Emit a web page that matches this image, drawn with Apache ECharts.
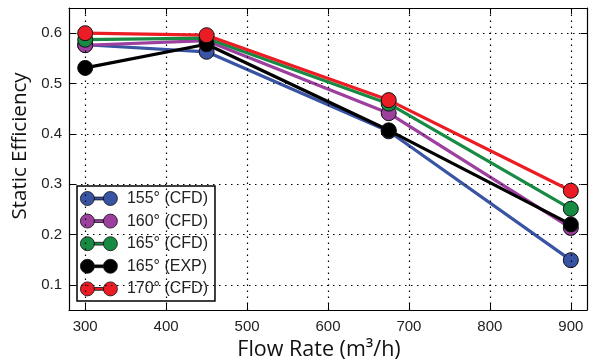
<!DOCTYPE html>
<html><head><meta charset="utf-8">
<script src="https://cdn.jsdelivr.net/npm/echarts@6/dist/echarts.min.js"></script>
<style>html,body{margin:0;padding:0;background:#fff}#c{width:592px;height:363px}</style>
</head><body><div id="c"></div>
<script>
const flowRates = [300, 450, 675, 900];
const seriesNames = ['155° (CFD)', '160° (CFD)', '165° (CFD)', '165° (EXP)', '170° (CFD)'];
const seriesColors = ['#3a54a4', '#9c3f9e', '#178a43', '#000000', '#ec1c24'];
const eff155 = [0.577, 0.563, 0.405, 0.149];
const eff160 = [0.576, 0.585, 0.441, 0.213];
const eff165 = [0.587, 0.590, 0.460, 0.251];
const eff165exp = [0.531, 0.578, 0.407, 0.220];
const eff170 = [0.600, 0.596, 0.467, 0.287];
const xTicks = [300, 400, 500, 600, 700, 800, 900];
const yTicks = [0.1, 0.2, 0.3, 0.4, 0.5, 0.6];
const allValues = [eff155, eff160, eff165, eff165exp, eff170];

const legendIcon = 'path://M7,0A7,7 0 1,1 7,14A7,7 0 1,1 7,0Z M14,5.6L23,5.6L23,8.4L14,8.4Z M30,0A7,7 0 1,1 30,14A7,7 0 1,1 30,0Z';

const chart = echarts.init(document.getElementById('c'), null, {renderer: 'canvas'});
const tickFont = {fontFamily: 'Liberation Sans', fontSize: 15, color: '#222'};
chart.setOption({
  animation: false,
  grid: {left: 69, right: 5, top: 8, bottom: 53, show: false, outerBoundsMode: 'none', containLabel: false},
  legend: {
    data: seriesNames.map((n, i) => ({name: n, icon: legendIcon})),
    orient: 'vertical', left: 77, top: 186,
    itemWidth: 37, itemHeight: 14, itemGap: 6.6,
    padding: [4.5, 7, 4, 3],
    borderColor: '#000', borderWidth: 1.5, backgroundColor: '#fff', borderRadius: 0,
    textStyle: {fontFamily: 'Liberation Sans', fontSize: 16, color: '#222', padding: [0, 0, 0, 4.5]},
    itemStyle: {borderColor: '#111', borderWidth: 0.8}
  },
  graphic: [
    {type: 'text', left: 'center', top: 0, style: {text: ''}, silent: true},
    {type: 'text', x: 319, y: 350, style: {text: 'Flow Rate (m³/h)', fontFamily: 'Open Sans', fontSize: 21.5, fill: '#111', align: 'center', verticalAlign: 'middle'}},
    {type: 'text', x: 20, y: 146, rotation: Math.PI / 2, style: {text: 'Static Efficiency', fontFamily: 'Open Sans', fontSize: 20.5, fill: '#111', align: 'center', verticalAlign: 'middle'}}
  ],
  xAxis: [{
    type: 'value', min: 280, max: 920,
    axisLine: {show: true, onZero: false, lineStyle: {color: '#000', width: 1.2}},
    axisTick: {show: true, inside: true, length: 6, lineStyle: {color: '#000'}, customValues: xTicks},
    axisLabel: {show: true, margin: 9, ...tickFont, customValues: xTicks},
    splitLine: {show: false}
  }, {
    type: 'value', min: 280, max: 920, position: 'top',
    axisLine: {show: true, onZero: false, lineStyle: {color: '#000', width: 1.2}},
    axisTick: {show: true, inside: true, length: 6, lineStyle: {color: '#000'}, customValues: xTicks},
    axisLabel: {show: false},
    splitLine: {show: false}
  }],
  yAxis: [{
    type: 'value', min: 0.05, max: 0.65,
    axisLine: {show: true, onZero: false, lineStyle: {color: '#000', width: 1.2}},
    axisTick: {show: true, inside: true, length: 6, lineStyle: {color: '#000'}, customValues: yTicks},
    axisLabel: {show: true, margin: 7, ...tickFont, customValues: yTicks, formatter: v => v.toFixed(1)},
    splitLine: {show: false}
  }, {
    type: 'value', min: 0.05, max: 0.65, position: 'right',
    axisLine: {show: true, onZero: false, lineStyle: {color: '#000', width: 1.2}},
    axisTick: {show: true, inside: true, length: 6, lineStyle: {color: '#000'}, customValues: yTicks},
    axisLabel: {show: false},
    splitLine: {show: false}
  }],
  series: [
    {
      type: 'line', data: [], xAxisIndex: 0, yAxisIndex: 0, silent: true,
      markLine: {
        silent: true, symbol: 'none', label: {show: false},
        lineStyle: {type: [1.5, 4.5], color: '#000', width: 1.2},
        data: [...xTicks.map(v => ({xAxis: v})), ...yTicks.map(v => ({yAxis: v}))]
      }
    },
    ...seriesNames.map((name, i) => ({
      name, type: 'line',
      data: flowRates.map((x, j) => [x, allValues[i][j]]),
      color: seriesColors[i],
      lineStyle: {width: 3.2, color: seriesColors[i]},
      symbol: 'circle', symbolSize: 15,
      itemStyle: {color: seriesColors[i], borderColor: '#111', borderWidth: 1},
      z: 3 + i
    }))
  ]
});
</script></body></html>
